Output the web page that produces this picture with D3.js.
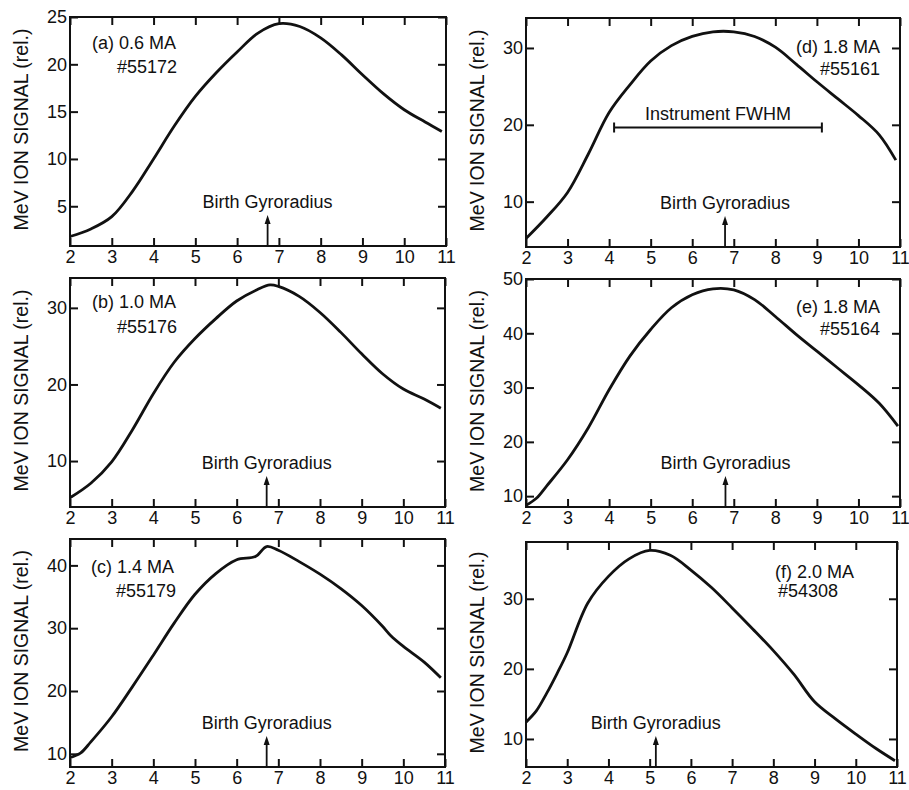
<!DOCTYPE html>
<html>
<head>
<meta charset="utf-8">
<script src="https://cdn.jsdelivr.net/npm/d3@7"></script>
<style>
  body { margin: 0; background: #fff; }
  svg text { font-family: "Liberation Sans", Arial, Helvetica, sans-serif; fill: #111; }
</style>
</head>
<body>
<svg id="chart" width="909" height="790"></svg>
<script>
// panel captions
var panelTags = ["(a)", "(b)", "(c)", "(d)", "(e)", "(f)"];
var currents = ["0.6 MA", "1.0 MA", "1.4 MA", "1.8 MA", "1.8 MA", "2.0 MA"];
var shots = ["#55172", "#55176", "#55179", "#55161", "#55164", "#54308"];

// x ticks shared by all panels
var xTicks = [2, 3, 4, 5, 6, 7, 8, 9, 10, 11];

// (a) 0.6 MA
var radiusA = [2, 2.5, 3, 3.5, 4, 4.5, 5, 5.5, 6, 6.5, 7, 7.5, 8, 8.5, 9, 9.5, 10, 10.5, 10.9];
var signalA = [1.8, 2.6, 3.9, 6.6, 10.0, 13.5, 16.6, 19.1, 21.3, 23.3, 24.3, 24.0, 22.8, 21.0, 18.9, 16.9, 15.2, 13.9, 12.9];
var yTicksA = [5, 10, 15, 20, 25];

// (b) 1.0 MA
var radiusB = [2, 2.5, 3, 3.5, 4, 4.5, 5, 5.5, 6, 6.5, 6.8, 7, 7.5, 8, 8.5, 9, 9.5, 10, 10.5, 10.9];
var signalB = [5.2, 7.1, 9.9, 14.1, 18.8, 22.9, 26.0, 28.6, 30.9, 32.4, 33.0, 32.8, 31.5, 29.4, 26.8, 24.0, 21.4, 19.4, 18.1, 16.9];
var yTicksB = [10, 20, 30];

// (c) 1.4 MA
var radiusC = [2, 2.25, 2.5, 3, 3.5, 4, 4.5, 5, 5.5, 6, 6.45, 6.72, 7, 7.5, 8, 8.5, 9, 9.5, 9.7, 10, 10.5, 10.9];
var signalC = [9.4, 10.1, 11.9, 15.9, 20.7, 25.7, 30.8, 35.4, 38.7, 40.9, 41.4, 43.0, 42.4, 40.6, 38.6, 36.3, 33.6, 30.3, 28.8, 27.1, 24.6, 22.1];
var yTicksC = [10, 20, 30, 40];

// (d) 1.8 MA
var radiusD = [2, 2.5, 3, 3.5, 4, 4.5, 5, 5.5, 6, 6.5, 7, 7.5, 8, 8.5, 9, 9.5, 10, 10.5, 10.9];
var signalD = [5.2, 8.0, 11.2, 16.2, 21.6, 25.2, 28.3, 30.3, 31.5, 32.1, 32.1, 31.5, 30.1, 27.9, 25.6, 23.4, 21.2, 18.7, 15.4];
var yTicksD = [10, 20, 30];

// (e) 1.8 MA
var radiusE = [2, 2.25, 2.5, 3, 3.5, 4, 4.5, 5, 5.5, 6, 6.5, 7, 7.5, 8, 8.5, 9, 9.5, 10, 10.5, 10.95];
var signalE = [8.3, 9.6, 11.9, 16.7, 22.6, 29.6, 35.8, 40.7, 44.7, 47.1, 48.2, 48.0, 46.2, 43.1, 39.8, 36.7, 33.6, 30.5, 27.1, 22.9];
var yTicksE = [10, 20, 30, 40, 50];

// (f) 2.0 MA
var radiusF = [2, 2.25, 2.5, 2.75, 3, 3.5, 4, 4.5, 5, 5.5, 6, 6.5, 7, 7.5, 8, 8.5, 9, 9.5, 10, 10.5, 10.95];
var signalF = [12.4, 14.0, 16.5, 19.3, 22.3, 29.4, 33.2, 35.7, 36.9, 36.2, 34.1, 31.6, 28.7, 25.7, 22.6, 19.2, 15.3, 12.9, 10.7, 8.6, 6.9];
var yTicksF = [10, 20, 30];

// birth gyroradius marks (cm)
var gyroradius = [6.73, 6.72, 6.72, 6.79, 6.80, 5.15];

// instrument FWHM bar for panel (d)
var fwhmRange = [4.12, 9.12];
var fwhmLevel = 19.65;

var yDomains = [[0.8, 25], [4.0, 33.9], [7.9, 44.2], [4.1, 33.9], [8.0, 50], [6.0, 38.1]];

var series = [
  { r: radiusA, s: signalA, ticks: yTicksA },
  { r: radiusB, s: signalB, ticks: yTicksB },
  { r: radiusC, s: signalC, ticks: yTicksC },
  { r: radiusD, s: signalD, ticks: yTicksD },
  { r: radiusE, s: signalE, ticks: yTicksE },
  { r: radiusF, s: signalF, ticks: yTicksF }
];

// frame boxes and caption placement per panel
var frames = [
  { left: 70, right: 446, top: 17, bottom: 246, cap: "start", cx1: 22, cx2: 47, cy1: 32, cy2: 56 },
  { left: 70, right: 445, top: 278, bottom: 507, cap: "start", cx1: 22, cx2: 47, cy1: 30, cy2: 55 },
  { left: 70, right: 445, top: 539, bottom: 767, cap: "start", cx1: 21, cx2: 46, cy1: 34, cy2: 58 },
  { left: 526, right: 900, top: 18, bottom: 247, cap: "end", cx1: -20, cx2: -20, cy1: 35, cy2: 57 },
  { left: 526, right: 900, top: 279, bottom: 507, cap: "end", cx1: -20, cx2: -20, cy1: 34, cy2: 56 },
  { left: 526, right: 897, top: 542, bottom: 767, cap: "start", cx1: 249, cx2: 252, cy1: 36, cy2: 55 }
];

var svg = d3.select("#chart");
var ink = "#111";

frames.forEach(function (f, i) {
  var x = d3.scaleLinear().domain([2, 11]).range([f.left, f.right]);
  var y = d3.scaleLinear().domain(yDomains[i]).range([f.bottom, f.top]);
  var g = svg.append("g");

  // inward ticks on all four sides
  var bottom = g.append("g").attr("transform", "translate(0," + f.bottom + ")")
    .call(d3.axisBottom(x).tickValues(xTicks).tickSize(-8).tickPadding(4).tickFormat(d3.format("d")));
  var top = g.append("g").attr("transform", "translate(0," + f.top + ")")
    .call(d3.axisTop(x).tickValues(xTicks).tickSize(-8).tickFormat(""));
  var left = g.append("g").attr("transform", "translate(" + f.left + ",0)")
    .call(d3.axisLeft(y).tickValues(series[i].ticks).tickSize(-8).tickPadding(3).tickFormat(d3.format("d")));
  var right = g.append("g").attr("transform", "translate(" + f.right + ",0)")
    .call(d3.axisRight(y).tickValues(series[i].ticks).tickSize(-8).tickFormat(""));

  [bottom, top, left, right].forEach(function (a) {
    a.select(".domain").remove();
    a.selectAll(".tick line").attr("stroke", ink).attr("stroke-width", 2);
    a.selectAll(".tick text").attr("fill", ink).style("font-size", "18px");
  });

  // frame
  g.append("rect")
    .attr("x", f.left).attr("y", f.top)
    .attr("width", f.right - f.left).attr("height", f.bottom - f.top)
    .attr("fill", "none").attr("stroke", ink).attr("stroke-width", 2);

  // y axis title
  g.append("text")
    .attr("transform", "translate(" + (f.left - 42) + "," + ((f.top + f.bottom) / 2 - 2) + ") rotate(-90)")
    .attr("text-anchor", "middle")
    .style("font-size", "19.5px")
    .text("MeV ION SIGNAL (rel.)");

  // signal curve
  var line = d3.line()
    .x(function (d) { return x(d[0]); })
    .y(function (d) { return y(d[1]); })
    .curve(d3.curveCatmullRom.alpha(0.5));
  var pts = series[i].r.map(function (r, k) { return [r, series[i].s[k]]; });
  g.append("path")
    .attr("d", line(pts))
    .attr("fill", "none")
    .attr("stroke", ink)
    .attr("stroke-width", 2.8)
    .attr("stroke-linejoin", "round");

  // caption
  var capX = f.cap === "end" ? f.right : f.left;
  g.append("text")
    .attr("x", capX + f.cx1).attr("y", f.top + f.cy1)
    .attr("text-anchor", f.cap)
    .style("font-size", "18px")
    .text(panelTags[i] + " " + currents[i]);
  g.append("text")
    .attr("x", capX + f.cx2).attr("y", f.top + f.cy2)
    .attr("text-anchor", f.cap)
    .style("font-size", "18px")
    .text(shots[i]);

  // birth gyroradius arrow
  var gx = x(gyroradius[i]);
  g.append("line")
    .attr("x1", gx).attr("x2", gx)
    .attr("y1", f.bottom).attr("y2", f.bottom - 24)
    .attr("stroke", ink).attr("stroke-width", 1.8);
  g.append("path")
    .attr("d", "M" + gx + "," + (f.bottom - 31) + "L" + (gx - 3) + "," + (f.bottom - 22) + "L" + (gx + 3) + "," + (f.bottom - 22) + "Z")
    .attr("fill", ink);
  g.append("text")
    .attr("x", gx).attr("y", f.bottom - 38)
    .attr("text-anchor", "middle")
    .style("font-size", "18px")
    .text("Birth Gyroradius");

  // instrument FWHM bar in panel (d)
  if (i === 3) {
    var fy = y(fwhmLevel);
    g.append("line")
      .attr("x1", x(fwhmRange[0])).attr("x2", x(fwhmRange[1]))
      .attr("y1", fy).attr("y2", fy)
      .attr("stroke", ink).attr("stroke-width", 2);
    fwhmRange.forEach(function (v) {
      g.append("line")
        .attr("x1", x(v)).attr("x2", x(v))
        .attr("y1", fy - 5).attr("y2", fy + 5)
        .attr("stroke", ink).attr("stroke-width", 2);
    });
    g.append("text")
      .attr("x", x((fwhmRange[0] + fwhmRange[1]) / 2)).attr("y", fy - 8)
      .attr("text-anchor", "middle")
      .style("font-size", "18px")
      .text("Instrument FWHM");
  }
});
</script>
</body>
</html>
